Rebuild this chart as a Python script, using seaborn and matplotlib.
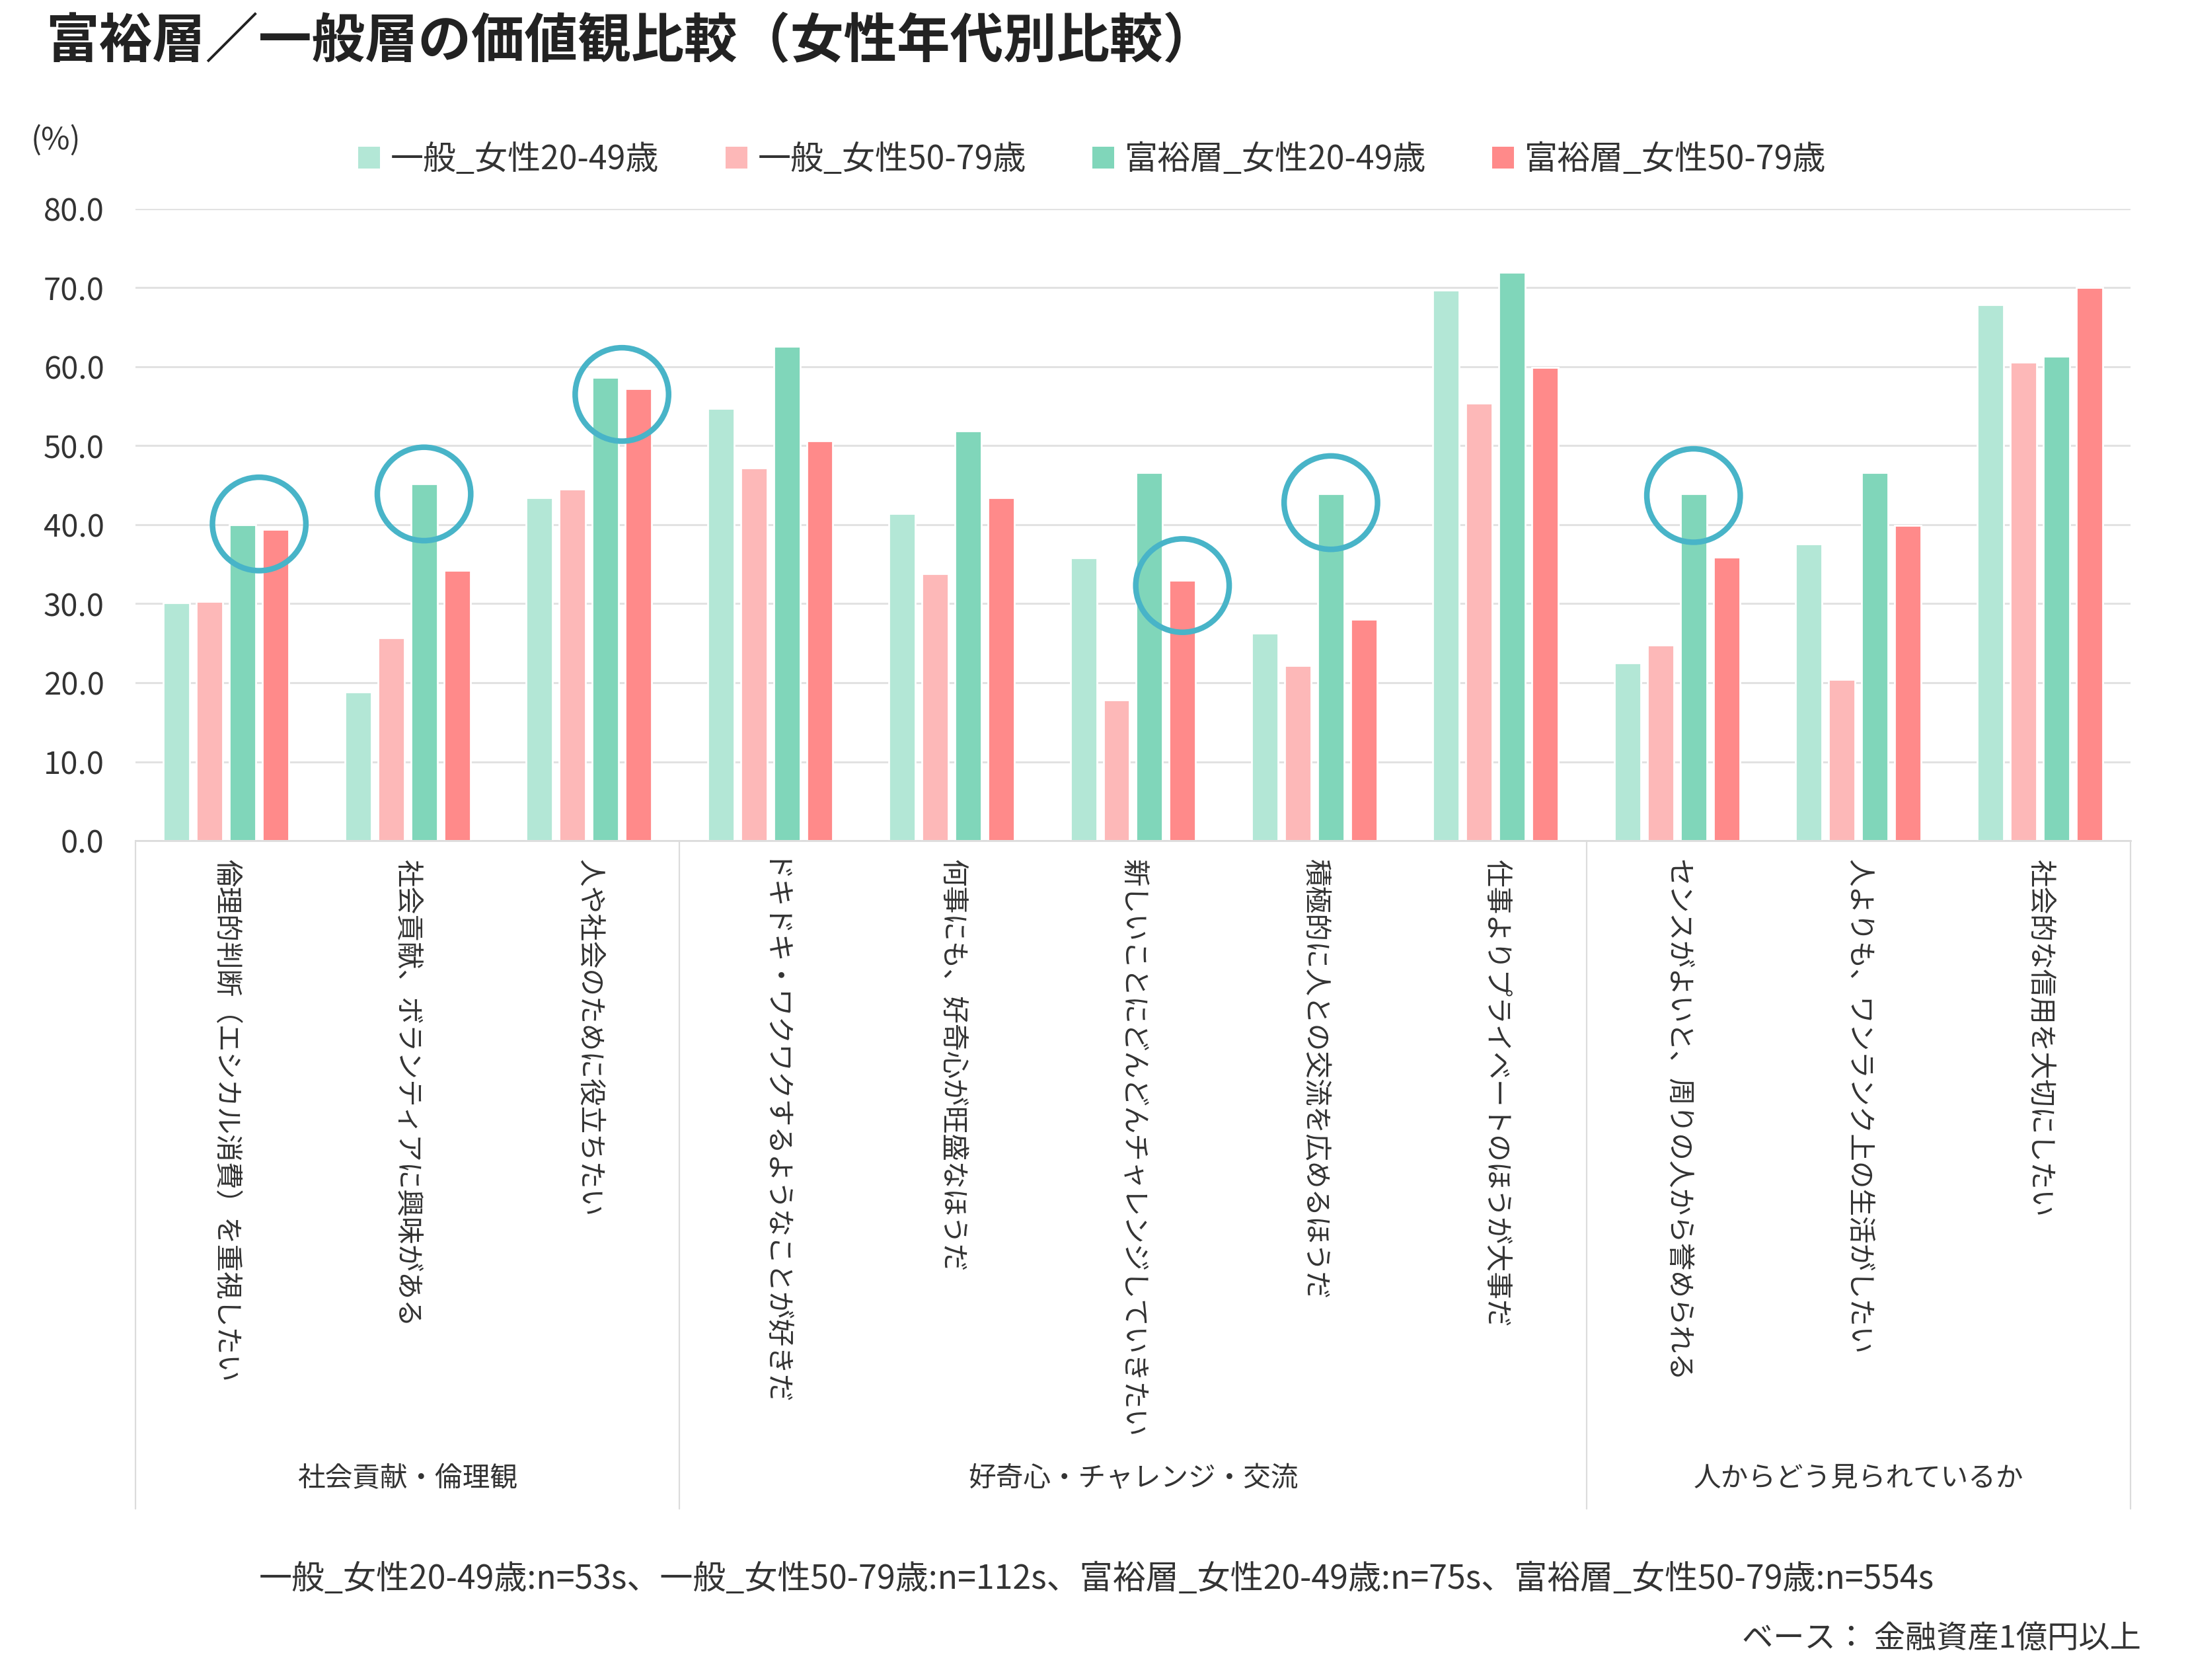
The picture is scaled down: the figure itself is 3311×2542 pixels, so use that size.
import matplotlib
matplotlib.use("Agg")
import matplotlib.pyplot as plt
from matplotlib.patches import Patch
import seaborn as sns
import pandas as pd

items = [
    "倫理的判断（エシカル消費）を重視したい",
    "社会貢献、ボランティアに興味がある",
    "人や社会のために役立ちたい",
    "ドキドキ・ワクワクするようなことが好きだ",
    "何事にも、好奇心が旺盛なほうだ",
    "新しいことにどんどんチャレンジしていきたい",
    "積極的に人との交流を広めるほうだ",
    "仕事よりプライベートのほうが大事だ",
    "センスがよいと、周りの人から誉められる",
    "人よりも、ワンランク上の生活がしたい",
    "社会的な信用を大切にしたい",
]
series = ["一般_女性20-49歳", "一般_女性50-79歳", "富裕層_女性20-49歳", "富裕層_女性50-79歳"]
general_20_49 = [30.1, 18.8, 43.4, 54.7, 41.4, 35.8, 26.3, 69.7, 22.5, 37.6, 67.9]
general_50_79 = [30.3, 25.7, 44.5, 47.2, 33.8, 17.8, 22.2, 55.4, 24.8, 20.4, 60.6]
wealthy_20_49 = [40.0, 45.2, 58.7, 62.6, 51.9, 46.6, 43.9, 72.0, 43.9, 46.6, 61.3]
wealthy_50_79 = [39.4, 34.2, 57.2, 50.6, 43.4, 33.0, 28.0, 59.9, 35.9, 39.9, 70.0]
colors = ["#b3e7d6", "#fdb8b8", "#80d6ba", "#ff8a8a"]

groups = ["社会貢献・倫理観", "好奇心・チャレンジ・交流", "人からどう見られているか"]
group_sizes = [3, 5, 3]

# circled bars: (item index, series indices, circle centre in %)
highlights = [(0, [2, 3], 40.1), (1, [2], 43.9), (2, [2, 3], 56.5),
              (5, [3], 32.3), (6, [2], 42.8), (8, [2], 43.7)]

values = [general_20_49, general_50_79, wealthy_20_49, wealthy_50_79]
df = pd.DataFrame({
    "item": [it for s in series for it in items],
    "series": [s for s in series for _ in items],
    "value": [v for vals in values for v in vals],
})

sns.set_theme(style="white")
plt.rcParams["font.family"] = ["Noto Sans CJK JP", "DejaVu Sans"]
text_color = "#333333"

fig = plt.figure(figsize=(16.56, 12.71), dpi=200)
ax = fig.add_axes([0.0619, 0.4996, 0.9115, 0.3761])

sns.barplot(data=df, x="item", y="value", hue="series", order=items, hue_order=series,
            palette=colors, width=0.728, gap=0.2, saturation=1, legend=False, ax=ax)

ax.set_xlim(-0.5, len(items) - 0.5)
ax.set_ylim(0, 80)
ax.set_yticks(range(0, 81, 10))
ax.set_yticklabels([f"{t:.1f}" for t in range(0, 81, 10)], fontsize=17, color=text_color)
ax.yaxis.grid(True, color="#e2e2e2", linewidth=1.1)
ax.set_axisbelow(True)
ax.set_xlabel("")
ax.set_ylabel("")
for side in ["left", "right", "top"]:
    ax.spines[side].set_visible(False)
ax.spines["bottom"].set_color("#dcdcdc")
ax.spines["bottom"].set_linewidth(1.0)
ax.tick_params(axis="y", length=0, pad=17)
ax.tick_params(axis="x", length=0, pad=10, labelsize=15, labelcolor=text_color, labelrotation=270)
for lab in ax.get_xticklabels():
    lab.set_va("top")
    lab.set_ha("center")

# category group separators and names
trans = ax.get_xaxis_transform()
bounds = [-0.5]
for n in group_sizes:
    bounds.append(bounds[-1] + n)
for b in bounds:
    ax.plot([b, b], [0, -1.0575], transform=trans, color="#dcdcdc", linewidth=0.8, clip_on=False)
for name, lo, hi in zip(groups, bounds[:-1], bounds[1:]):
    ax.text((lo + hi) / 2, -1.0105, name, transform=trans, ha="center", va="center",
            fontsize=15, color=text_color)

# circles around highlighted bars
for idx, hs, cy in highlights:
    bars = [ax.containers[h][idx] for h in hs]
    cx = sum(b.get_x() + b.get_width() / 2 for b in bars) / len(bars)
    ax.scatter([cx], [cy], s=2590, facecolors="none", edgecolors="#48b4c8",
               linewidths=3.05, zorder=5, clip_on=False)

handles = [Patch(facecolor=c, edgecolor="none") for c in colors]
fig.legend(handles, series, loc="center", bbox_to_anchor=(0.4991, 0.9048), ncol=4,
           frameon=False, fontsize=18, handlelength=0.66, handleheight=0.62,
           handletextpad=0.32, columnspacing=2.0, labelcolor=text_color)

fig.text(0.0208, 0.9752, "富裕層／一般層の価値観比較（女性年代別比較）", fontsize=29,
         fontweight="bold", color="#222222", ha="left", va="center")
fig.text(0.0142, 0.9162, "(%)", fontsize=17, color=text_color, ha="left", va="center")
fig.text(0.501, 0.0598,
         "一般_女性20-49歳:n=53s、一般_女性50-79歳:n=112s、富裕層_女性20-49歳:n=75s、富裕層_女性50-79歳:n=554s",
         fontsize=18, color=text_color, ha="center", va="center")
fig.text(0.9783, 0.0244, "ベース： 金融資産1億円以上", fontsize=17, color=text_color,
         ha="right", va="center")

fig.savefig("out.png", dpi=200)
plt.close(fig)
